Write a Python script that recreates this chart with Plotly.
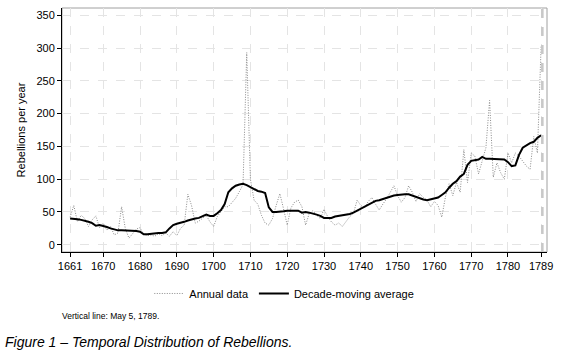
import plotly.graph_objects as go

years = list(range(1661, 1790))

annual = [
    42, 60, 35, 45, 40, 28, 38, 44, 26, 33,      # 1661-1670
    22, 28, 15, 18, 58, 25, 10, 17, 24, 26,      # 1671-1680
    16, 14, 15, 13, 17, 14, 18, 13, 20, 14,      # 1681-1690
    25, 30, 77, 60, 33, 36, 40, 45, 35, 28,      # 1691-1700
    43, 50, 58, 58, 65, 71, 81, 92, 293, 100,    # 1701-1710
    68, 62, 45, 33, 30, 40, 60, 78, 55, 30,      # 1711-1720
    56, 65, 68, 58, 30, 48, 52, 45, 40, 54,      # 1721-1730
    43, 35, 30, 33, 28, 36, 43, 48, 68, 60,      # 1731-1740
    56, 66, 72, 62, 53, 62, 70, 80, 90, 75,      # 1741-1750
    65, 72, 90, 80, 66, 78, 72, 68, 58, 66,      # 1751-1760
    60, 42, 73, 93, 75, 95, 80, 145, 95, 140,    # 1761-1770
    135, 108, 130, 148, 220, 103, 125, 110, 100, 140,  # 1771-1780
    125, 140, 135, 128, 120, 115, 165, 140, 303  # 1781-1789
]

moving_avg = [
    40, 40, 39, 38, 37, 35, 33, 29, 30, 29,      # 1661-1670
    27, 25, 23, 22, 22, 22, 22, 21, 21, 20,      # 1671-1680
    16, 16, 17, 17, 18, 18, 19, 25, 30, 32,      # 1681-1690
    33, 35, 37, 39, 40, 41, 43, 46, 44, 44,      # 1691-1700
    48, 53, 62, 80, 86, 90, 92, 93, 91, 88,      # 1701-1710
    85, 82, 81, 79, 57, 50, 50, 50, 51, 52,      # 1711-1720
    52, 53, 52, 49, 50, 49, 48, 46, 44, 41,      # 1721-1730
    41, 41, 43, 44, 44, 45, 47, 49, 52, 55,      # 1731-1740
    59, 62, 65, 67, 68, 70, 72, 74, 75, 76,      # 1741-1750
    77, 77, 77, 75, 72, 70, 69, 68, 69, 70,      # 1751-1760
    72, 76, 80, 87, 93, 97, 104, 108, 122, 128,  # 1761-1770
    129, 130, 134, 131, 131, 131, 131, 130, 130, 126,  # 1771-1780
    120, 121, 137, 148, 152, 155, 157, 163, 167  # 1781-1789
]

x_ticks = [1661, 1670, 1680, 1690, 1700, 1710, 1720, 1730, 1740, 1750, 1760, 1770, 1780, 1789]
y_ticks = [0, 50, 100, 150, 200, 250, 300, 350]
event_year = 1789.34  # May 5, 1789

FONT = "Liberation Sans, Arial, sans-serif"

fig = go.Figure()
fig.add_trace(go.Scatter(
    x=years, y=annual, mode="lines", name="Annual data",
    line=dict(color="#8a8a8a", width=1, dash="1px,1.5px"),
))
fig.add_trace(go.Scatter(
    x=years, y=moving_avg, mode="lines", name="Decade-moving average",
    line=dict(color="#000000", width=2),
))

# frame (top/right in grey)
fig.add_shape(type="rect", xref="paper", yref="paper", x0=0, x1=1, y0=0, y1=1,
              line=dict(color="#a0a0a0", width=1), layer="below")
# vertical line May 5, 1789
fig.add_shape(type="line", xref="x", yref="paper", x0=event_year, x1=event_year,
              y0=0, y1=1, line=dict(color="#c8c8c8", width=2.5, dash="dash"))

fig.update_layout(
    width=561, height=353,
    margin=dict(l=62, r=10, t=8, b=101),
    paper_bgcolor="white", plot_bgcolor="white",
    font=dict(family=FONT, size=11, color="#000"),
    showlegend=True,
    legend=dict(orientation="h", x=0.18, xanchor="left", y=-0.17, yanchor="middle",
                font=dict(size=11), bgcolor="rgba(0,0,0,0)", itemwidth=30,
                tracegroupgap=0),
    annotations=[
        dict(text="Vertical line: May 5, 1789.", xref="paper", yref="paper",
             x=-0.004, y=-0.262, xanchor="left", yanchor="middle", showarrow=False,
             font=dict(size=8.5, family=FONT)),
        dict(text="<i>Figure 1 – Temporal Distribution of Rebellions.</i>", xref="paper", yref="paper",
             x=-0.121, y=-0.369, xanchor="left", yanchor="middle", showarrow=False,
             font=dict(size=14, family=FONT)),
    ],
)

fig.update_xaxes(
    range=[1658.8, 1790.6], tickvals=x_ticks, ticktext=[str(t) for t in x_ticks],
    showgrid=True, gridcolor="#e4e4e4", griddash="dash", gridwidth=1,
    showline=True, linecolor="#000", linewidth=1,
    ticks="outside", ticklen=4, tickcolor="#000", zeroline=False,
    tickfont=dict(size=11),
)
fig.update_yaxes(
    range=[-11, 361], tickvals=y_ticks,
    showgrid=True, gridcolor="#e4e4e4", griddash="dash", gridwidth=1,
    showline=True, linecolor="#000", linewidth=1,
    ticks="outside", ticklen=4, tickcolor="#000", zeroline=False,
    tickfont=dict(size=11),
    title=dict(text="Rebellions per year", font=dict(size=11), standoff=8),
)

fig.write_html("out.html")
